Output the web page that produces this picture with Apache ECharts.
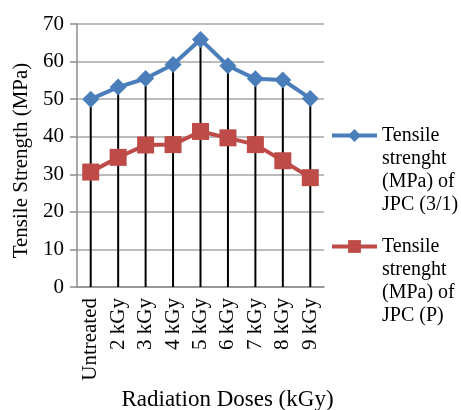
<!DOCTYPE html>
<html>
<head>
<meta charset="utf-8">
<script src="https://cdn.jsdelivr.net/npm/echarts@6/dist/echarts.min.js"></script>
<style>html,body{margin:0;padding:0;background:#fff}#c{width:461px;height:410px}</style>
</head>
<body>
<div id="c"></div>
<script>
var categories = ['Untreated', '2 kGy', '3 kGy', '4 kGy', '5 kGy', '6 kGy', '7 kGy', '8 kGy', '9 kGy'];
var jpc31 = [50.0, 53.2, 55.5, 59.2, 65.9, 58.9, 55.4, 55.1, 50.2];
var jpcP = [30.6, 34.5, 37.8, 37.9, 41.4, 39.7, 37.9, 33.6, 29.1];
var name31 = 'Tensile strenght (MPa) of JPC (3/1)';
var nameP = 'Tensile strenght (MPa) of JPC (P)';
var legendText = {};
legendText[name31] = ' \n \n \nTensile\nstrenght\n(MPa) of\nJPC (3/1)';
legendText[nameP] = ' \n \n \nTensile\nstrenght\n(MPa) of\nJPC (P)';

var FONT = '"Liberation Serif", "Times New Roman", serif';
var chart = echarts.init(document.getElementById('c'));
var legendBase = {
  orient: 'vertical', left: 330, padding: 0, itemWidth: 45, itemHeight: 16,
  formatter: function (n) { return legendText[n]; },
  textStyle: { fontFamily: FONT, fontSize: 20, color: '#000', lineHeight: 23 },
  lineStyle: { width: 4 },
  selectedMode: false
};
chart.setOption({
  animation: false,
  grid: { left: 77, right: 137, top: 24, bottom: 123, outerBoundsMode: 'none', containLabel: false },
  legend: [
    Object.assign({}, legendBase, { top: 55, data: [name31] }),
    Object.assign({}, legendBase, { top: 166, data: [nameP] })
  ],
  xAxis: {
    type: 'category', data: categories,
    name: 'Radiation Doses (kGy)', nameLocation: 'middle', nameGap: 100,
    nameTextStyle: { fontFamily: FONT, fontSize: 23, color: '#000', padding: [0, 0, 0, 54] },
    axisLine: { lineStyle: { color: '#8c8c8c', width: 1.5 } },
    axisTick: { show: false },
    axisLabel: { rotate: 90, interval: 0, margin: 11, fontFamily: FONT, fontSize: 21, color: '#000' }
  },
  yAxis: {
    type: 'value', min: 0, max: 70, interval: 10,
    name: 'Tensile Strength (MPa)', nameLocation: 'middle', nameGap: 45,
    nameTextStyle: { fontFamily: FONT, fontSize: 21, color: '#000', padding: [0, 10, 0, 0] },
    axisLine: { show: true, lineStyle: { color: '#8c8c8c', width: 1.5 } },
    axisTick: { show: true, length: 7, lineStyle: { color: '#8c8c8c', width: 1.5 } },
    axisLabel: { margin: 13, fontFamily: FONT, fontSize: 21, color: '#000' },
    splitLine: { lineStyle: { color: '#a6a6a6', width: 1.5 } }
  },
  series: [
    {
      name: 'drop', type: 'bar', data: jpc31, barWidth: 2, barGap: '-100%',
      itemStyle: { color: '#000' }, z: 1, silent: true
    },
    {
      name: name31, type: 'line', data: jpc31, symbol: 'diamond', symbolSize: 17,
      lineStyle: { color: '#4a7ebb', width: 4 }, itemStyle: { color: '#4a7ebb' }, z: 3
    },
    {
      name: nameP, type: 'line', data: jpcP, symbol: 'rect', symbolSize: 17,
      lineStyle: { color: '#be4b48', width: 4 }, itemStyle: { color: '#be4b48' }, z: 3
    }
  ]
});
</script>
</body>
</html>
